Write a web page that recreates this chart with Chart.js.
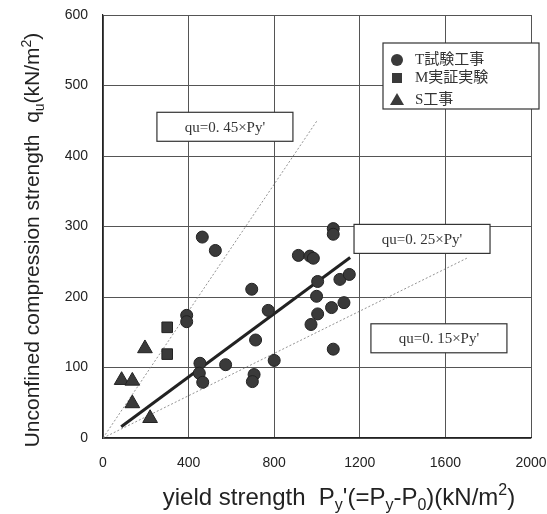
<!doctype html>
<html>
<head>
<meta charset="utf-8" />
<title>qu vs Py'</title>
<script src="https://cdn.jsdelivr.net/npm/chart.js"></script>
<style>html,body{margin:0;padding:0;background:#fff}</style>
</head>
<body>
<canvas id="chart" width="547" height="514"></canvas>
<script>
// T試験工事 (circles)
const tX = [464, 525, 1076, 1076, 913, 967, 983, 695, 1003, 1107, 1151, 998, 772, 391, 391, 1126, 1068, 1003, 972, 713, 1076, 800, 453, 573, 450, 466, 706, 698];
const tY = [285, 266, 297, 289, 259, 258, 255, 211, 222, 225, 232, 201, 181, 174, 165, 192, 185, 176, 161, 139, 126, 110, 106, 104, 92, 79, 90, 80];
// M実証実験 (squares)
const mX = [300, 300];
const mY = [157, 119];
// S工事 (triangles)
const sX = [196, 87, 137, 137, 220];
const sY = [127, 82, 81, 49, 28];
// regression line and reference lines
const fitX = [85, 1155];
const fitY = [16, 256];
const ref45X = [0, 1000];
const ref45Y = [0, 450];
const ref15X = [0, 1700];
const ref15Y = [0, 255];

const xTicks = [0, 400, 800, 1200, 1600, 2000];
const yTicks = [0, 100, 200, 300, 400, 500, 600];
const legendLabels = ['T試験工事', 'M実証実験', 'S工事'];
const noteTexts = ["qu=0. 45×Py'", "qu=0. 25×Py'", "qu=0. 15×Py'"];
const noteX = [252, 1173, 1252]; // left edge of each note box (data units)
const noteY = [462, 303, 162];   // top edge of each note box (data units)

const pts = (xs, ys) => xs.map((x, i) => ({ x, y: ys[i] }));
const MARK = '#3a3a3a';

function drawRich(ctx, parts, x, y, size) {
  // parts: [text, 'sub'|'sup'|undefined]
  const big = size + 'px "Liberation Sans", Arial, sans-serif';
  const small = Math.round(size * 0.68) + 'px "Liberation Sans", Arial, sans-serif';
  let w = 0;
  parts.forEach(([t, k]) => { ctx.font = k ? small : big; w += ctx.measureText(t).width; });
  let cx = x - w / 2;
  parts.forEach(([t, k]) => {
    ctx.font = k ? small : big;
    const dy = k === 'sub' ? size * 0.22 : k === 'sup' ? -size * 0.4 : 0;
    ctx.fillText(t, cx, y + dy);
    cx += ctx.measureText(t).width;
  });
}

const overlay = {
  id: 'overlay',
  afterDraw(chart) {
    const ctx = chart.ctx;
    const xs = chart.scales.x, ys = chart.scales.y;
    const area = chart.chartArea;
    ctx.save();

    // note boxes
    ctx.font = '15px "Liberation Serif", "DejaVu Serif", serif';
    ctx.textBaseline = 'middle';
    ctx.textAlign = 'center';
    noteTexts.forEach((t, i) => {
      const l = xs.getPixelForValue(noteX[i]);
      const tp = ys.getPixelForValue(noteY[i]);
      const w = 136, h = 29;
      ctx.fillStyle = '#fff';
      ctx.fillRect(l, tp, w, h);
      ctx.strokeStyle = '#333';
      ctx.lineWidth = 1.2;
      ctx.strokeRect(l, tp, w, h);
      ctx.fillStyle = '#333';
      ctx.fillText(t, l + w / 2, tp + h / 2 + 1);
    });

    // legend box
    const lx = area.right - 148, ly = area.top + 28;
    ctx.fillStyle = '#fff';
    ctx.fillRect(lx, ly, 156, 66);
    ctx.strokeStyle = '#333';
    ctx.lineWidth = 1.2;
    ctx.strokeRect(lx, ly, 156, 66);
    const rows = [ly + 17, ly + 35, ly + 57];
    const sx = lx + 14;
    ctx.fillStyle = MARK;
    ctx.beginPath(); ctx.arc(sx, rows[0], 6, 0, Math.PI * 2); ctx.fill();
    ctx.fillRect(sx - 5, rows[1] - 5, 10, 10);
    ctx.beginPath();
    ctx.moveTo(sx, rows[2] - 7); ctx.lineTo(sx + 7, rows[2] + 5); ctx.lineTo(sx - 7, rows[2] + 5);
    ctx.closePath(); ctx.fill();
    ctx.font = '15px "Liberation Serif", "Noto Sans CJK JP", serif';
    ctx.textAlign = 'left';
    ctx.fillStyle = '#333';
    legendLabels.forEach((t, i) => ctx.fillText(t, lx + 32, rows[i]));

    // axis titles with sub/superscripts
    ctx.fillStyle = '#222';
    ctx.textBaseline = 'alphabetic';
    ctx.textAlign = 'left';
    drawRich(ctx, [['yield strength  P'], ['y', 'sub'], ["'(=P"], ['y', 'sub'], ['-P'], ['0', 'sub'], [')(kN/m'], ['2', 'sup'], [')']], 339, 505, 24);
    ctx.translate(39, 240);
    ctx.rotate(-Math.PI / 2);
    drawRich(ctx, [['Unconfined compression strength  q'], ['u', 'sub'], ['(kN/m'], ['2', 'sup'], [')']], 0, 0, 21);
    ctx.restore();
  }
};

const tickFont = { family: '"Liberation Sans", Arial, sans-serif', size: 14 };

new Chart(document.getElementById('chart').getContext('2d'), {
  type: 'scatter',
  data: {
    datasets: [
      { label: legendLabels[0], data: pts(tX, tY), pointStyle: 'circle', pointRadius: 6, backgroundColor: MARK, borderColor: '#222', borderWidth: 1 },
      { label: legendLabels[1], data: pts(mX, mY), pointStyle: 'rect', pointRadius: 7.5, backgroundColor: MARK, borderColor: '#222', borderWidth: 1 },
      { label: legendLabels[2], data: pts(sX, sY), pointStyle: 'triangle', pointRadius: 8.5, backgroundColor: MARK, borderColor: '#222', borderWidth: 1 },
      { label: 'fit', type: 'line', data: pts(fitX, fitY), borderColor: '#222', borderWidth: 3, pointRadius: 0 },
      { label: '0.45', type: 'line', data: pts(ref45X, ref45Y), borderColor: '#777', borderWidth: 0.8, borderDash: [2, 2], pointRadius: 0 },
      { label: '0.15', type: 'line', data: pts(ref15X, ref15Y), borderColor: '#777', borderWidth: 0.8, borderDash: [2, 2], pointRadius: 0 }
    ]
  },
  options: {
    responsive: false,
    animation: false,
    layout: { padding: { top: 15, right: 16, left: 0, bottom: 0 } },
    plugins: { legend: { display: false }, tooltip: { enabled: false } },
    scales: {
      x: {
        type: 'linear', min: 0, max: 2000,
        afterBuildTicks: (s) => { s.ticks = xTicks.map((v) => ({ value: v })); },
        afterFit: (s) => { s.height = 76; s.paddingLeft = 0; s.paddingRight = 0; },
        grid: { color: '#555', lineWidth: 1, drawTicks: false },
        border: { color: '#222', width: 1.2 },
        ticks: { padding: 17, color: '#222', font: tickFont, callback: (v) => String(v) }
      },
      y: {
        type: 'linear', min: 0, max: 600,
        afterBuildTicks: (s) => { s.ticks = yTicks.map((v) => ({ value: v })); },
        afterFit: (s) => { s.width = 103; s.paddingTop = 0; s.paddingBottom = 0; },
        grid: { color: '#555', lineWidth: 1, drawTicks: false },
        border: { color: '#222', width: 1.2 },
        ticks: { padding: 15, color: '#222', font: tickFont, callback: (v) => String(v) }
      }
    }
  },
  plugins: [overlay]
});
</script>
</body>
</html>
